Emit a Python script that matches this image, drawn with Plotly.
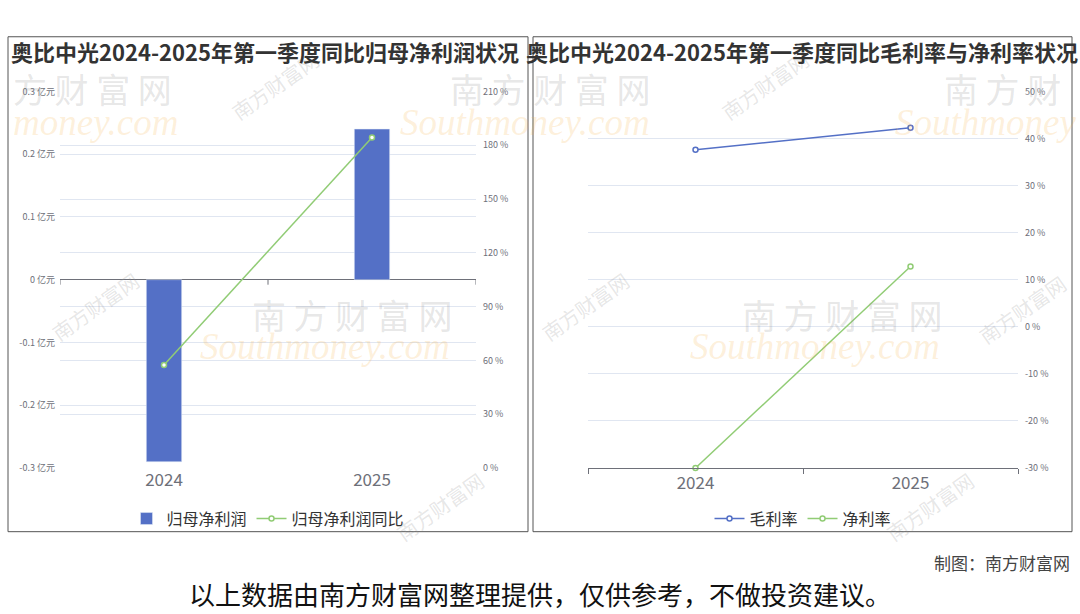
import plotly.graph_objects as go

W, H = 1080, 614

# ---- data ----
years = ["2024", "2025"]
net_profit = [-0.29, 0.24]        # 归母净利润, 亿元
net_profit_yoy = [57.4, 184.3]    # 归母净利润同比, %
gross_margin = [37.6, 42.3]       # 毛利率, %
net_margin = [-30.0, 12.8]        # 净利率, %

profit_ticks = [-0.3, -0.2, -0.1, 0, 0.1, 0.2, 0.3]
profit_labels = [f"{v:g} 亿元" for v in profit_ticks]
yoy_ticks = [0, 30, 60, 90, 120, 150, 180, 210]
yoy_labels = [f"{v} %" for v in yoy_ticks]
margin_ticks = [-30, -20, -10, 0, 10, 20, 30, 40, 50]
margin_labels = [f"{v} %" for v in margin_ticks]

BLUE = "#5470c6"
GREEN = "#91cc75"
AXIS = "#6e7079"
GRID = "#e0e6f1"
FONT = "Noto Sans CJK SC"

# the photographed page comes out slightly squeezed vertically,
# so screen rows are mapped back to figure rows before use
SQUEEZE = 0.976
TOP_PAD = 7


def px(x):
    return x / W


def py(y):
    return 1 - (y / SQUEEZE - TOP_PAD) / H


def note(text, x, y, size, color, family=FONT, xanchor="center", angle=0):
    fig.add_annotation(text=text, x=px(x), y=py(y), xref="paper", yref="paper",
                       xanchor=xanchor, yanchor="middle", showarrow=False,
                       textangle=angle,
                       font=dict(size=size, color=color, family=family))


fig = go.Figure()

fig.add_trace(go.Bar(
    x=years, y=net_profit, name="归母净利润", marker_color=BLUE, width=0.17,
    xaxis="x", yaxis="y", legend="legend"))
fig.add_trace(go.Scatter(
    x=years, y=net_profit_yoy, name="归母净利润同比", mode="lines+markers",
    line=dict(color=GREEN, width=1.5),
    marker=dict(symbol="circle", size=5, color="white", line=dict(color=GREEN, width=1.5)),
    xaxis="x", yaxis="y2", legend="legend", cliponaxis=False))

fig.add_trace(go.Scatter(
    x=years, y=gross_margin, name="毛利率", mode="lines+markers",
    line=dict(color=BLUE, width=1.5),
    marker=dict(symbol="circle", size=5, color="white", line=dict(color=BLUE, width=1.5)),
    xaxis="x2", yaxis="y3", legend="legend2", cliponaxis=False))
fig.add_trace(go.Scatter(
    x=years, y=net_margin, name="净利率", mode="lines+markers",
    line=dict(color=GREEN, width=1.5),
    marker=dict(symbol="circle", size=5, color="white", line=dict(color=GREEN, width=1.5)),
    xaxis="x2", yaxis="y3", legend="legend2", cliponaxis=False))

ydom = [py(466.5), py(91)]
tick_font = dict(size=9, color=AXIS, family=FONT)
cat_font = dict(size=17, color=AXIS, family=FONT)
legend_font = dict(size=16, color="#333", family=FONT)

fig.update_layout(
    width=W, height=H,
    margin=dict(l=0, r=0, t=0, b=0),
    paper_bgcolor="white", plot_bgcolor="white",
    font=dict(family=FONT, color="#333"),
    xaxis=dict(domain=[px(60), px(476)], anchor="y", type="category",
               range=[-0.5, 1.5], showline=False, ticks="", showgrid=False,
               zeroline=False, tickfont=cat_font),
    yaxis=dict(domain=ydom, range=[-0.3, 0.3], tickvals=profit_ticks,
               ticktext=profit_labels, tickfont=tick_font, showgrid=True,
               gridcolor=GRID, zeroline=True, zerolinecolor=AXIS,
               zerolinewidth=1, showline=False, ticks="", ticklabelstandoff=4),
    yaxis2=dict(overlaying="y", side="right", anchor="x", range=[0, 210],
                tickvals=yoy_ticks, ticktext=yoy_labels, tickfont=tick_font,
                showgrid=True, gridcolor=GRID, zeroline=False, ticks="",
                ticklabelstandoff=6),
    xaxis2=dict(domain=[px(588), px(1018)], anchor="y3", type="category",
                range=[-0.5, 1.5], showline=True, linecolor=AXIS,
                ticks="outside", tickson="boundaries", ticklen=5,
                tickcolor=AXIS, showgrid=False, zeroline=False,
                tickfont=cat_font),
    yaxis3=dict(domain=ydom, anchor="x2", side="right", range=[-30, 50],
                tickvals=margin_ticks, ticktext=margin_labels,
                tickfont=tick_font, showgrid=True, gridcolor=GRID,
                zeroline=False, ticks="", ticklabelstandoff=6),
    legend=dict(orientation="h", x=px(268), xanchor="center", y=py(517),
                yanchor="middle", font=legend_font, bgcolor="rgba(0,0,0,0)"),
    legend2=dict(orientation="h", x=px(803), xanchor="center", y=py(517),
                 yanchor="middle", font=legend_font, bgcolor="rgba(0,0,0,0)"),
)

# boundary ticks on the zero axis of the left chart
for b in [-0.5, 0.5, 1.5]:
    fig.add_shape(type="line", xref="x", yref="y", x0=b, x1=b,
                  ysizemode="pixel", yanchor=0, y0=0, y1=-5,
                  line=dict(color=AXIS, width=1))

# panel borders
for x0, x1 in [(8, 528), (533, 1072)]:
    fig.add_shape(type="rect", xref="paper", yref="paper",
                  x0=px(x0), x1=px(x1), y0=py(530), y1=py(36.5),
                  line=dict(color="#555", width=1), fillcolor="rgba(0,0,0,0)")

# watermarks (only the parts that show inside the picture)
wm_gray = "rgba(150,150,150,0.24)"
wm_orange = "rgba(245,175,70,0.2)"
for txt, cx, cy in [("方 财 富 网", 92, 88), ("南 方 财 富 网", 550, 88),
                    ("南 方 财", 1002, 88), ("南 方 财 富 网", 352, 313),
                    ("南 方 财 富 网", 842, 313)]:
    note(txt, cx, cy, 34, wm_gray)
for txt, cx, cy in [("money.com", 95, 122), ("Southmoney.com", 525, 122),
                    ("Southmoney", 985, 122), ("Southmoney.com", 325, 345),
                    ("Southmoney.com", 815, 345)]:
    note(f"<i>{txt}</i>", cx, cy, 37, wm_orange, family="Liberation Serif")
for cx, cy in [(275, 85), (765, 85), (95, 305), (585, 305), (1022, 308), (440, 505), (930, 505)]:
    note("南方财富网", cx, cy, 20, wm_gray, angle=-35)

# titles
note("<b>奥比中光2024-2025年第一季度同比归母净利润状况</b>", 9, 51, 22, "#333",
     xanchor="left")
note("<b>奥比中光2024-2025年第一季度同比毛利率与净利率状况</b>", 802, 51, 22, "#333")

# footer
note("制图：南方财富网", 1072, 561, 17, "#444", xanchor="right")
note("以上数据由南方财富网整理提供，仅供参考，不做投资建议。", 540, 592, 26, "#111")

fig.write_html(
    "out.html",
    config={"displayModeBar": False},
    post_script=("document.documentElement.style.margin='0';"
                 "document.documentElement.style.overflow='hidden';"
                 "document.body.style.margin='0';"
                 "document.body.style.overflow='hidden';"),
)
